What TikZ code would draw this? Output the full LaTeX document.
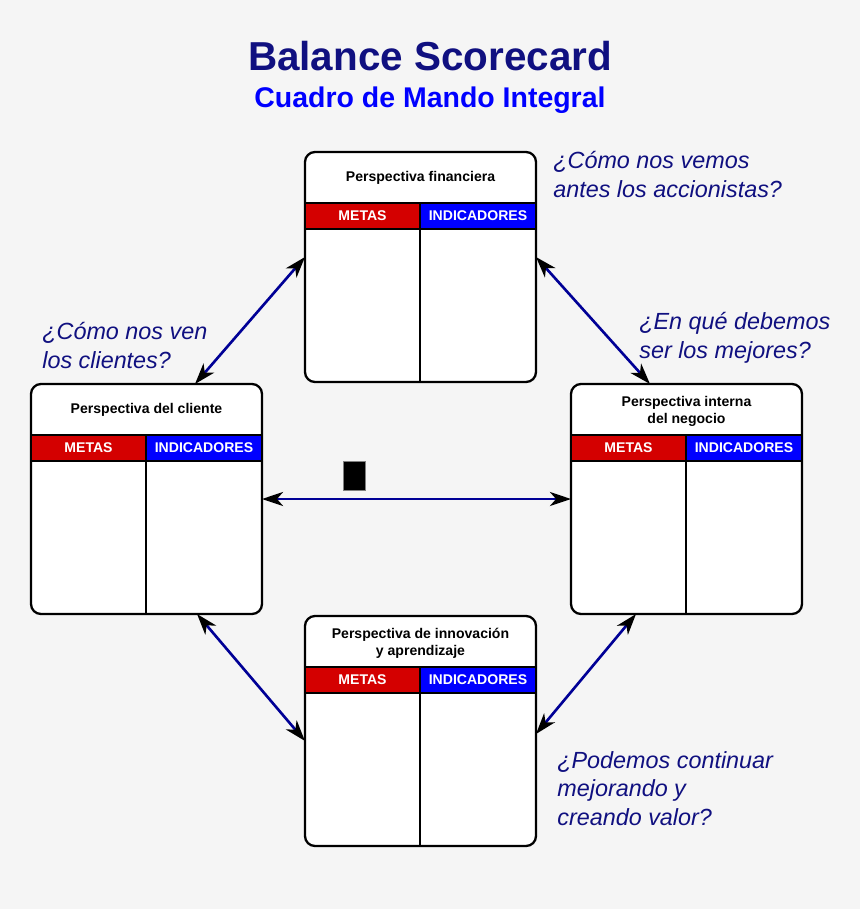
\documentclass[tikz,border=0pt]{standalone}
\usepackage{fontspec}
\setmainfont{Liberation Sans}
\usetikzlibrary{positioning, calc, arrows.meta}
\definecolor{fondo}{RGB}{245,245,245}
\definecolor{darknavy}{RGB}{16,16,128}
\definecolor{linenavy}{RGB}{0,0,150}
\definecolor{metared}{RGB}{212,0,0}
\definecolor{indblue}{RGB}{0,0,255}

\begin{document}
\begin{tikzpicture}[
        node distance=0.04cm and 0.86cm,
        persp/.style={rectangle, draw=black, line width=1.3pt, fill=white, minimum width=4.62cm, minimum height=4.6cm, rounded corners=0.2cm, inner sep=0pt, outer sep=0pt},
        ptitle/.style={font=\fontsize{8}{9.7}\selectfont\bfseries, align=center},
        head/.style={rectangle, draw=black, line width=0.8pt, text=white, font=\fontsize{8}{9.7}\selectfont\bfseries, minimum height=0.52cm, inner sep=0pt, outer sep=0pt},
        metas/.style={head, fill=metared, minimum width=2.3cm},
        indic/.style={head, fill=indblue, minimum width=2.32cm},
        divider/.style={line width=1.1pt},
        question/.style={text=darknavy, font=\fontsize{13.3}{16.2}\selectfont\itshape, align=left, inner sep=0pt, anchor=base west},
        arrow/.style={<->, >={Stealth[length=12pt, width=8pt, inset=3.5pt, color=black]}, draw=linenavy, line width=1.5pt}
    ]
        \fill[fondo] (0,0) rectangle (17.2,-18.18);
        \useasboundingbox (0,0) rectangle (17.2,-18.18);

        % titles
        \node[font=\fontsize{23}{27}\selectfont\bfseries, text=darknavy, anchor=base, inner sep=0pt] (TIT) at (8.6,-1.40) {Balance Scorecard};
        \node[font=\fontsize{16.2}{19}\selectfont\bfseries, text=indblue, anchor=base, inner sep=0pt] (SUB) at (8.6,-2.14) {Cuadro de Mando Integral};

        % perspectives
        \node[persp] (FIN) at (8.41,-5.34) {};
        \node[persp, below left=of FIN] (CLI) {};
        \node[persp, below right=0.04cm and 0.7cm of FIN] (INT) {};
        \node[persp, below=4.68cm of FIN] (INN) {};

        \node[ptitle] (FINt) at ([yshift=-0.51cm]FIN.north) {Perspectiva financiera};
        \node[ptitle] (CLIt) at ([yshift=-0.51cm]CLI.north) {Perspectiva del cliente};
        \node[ptitle] (INTt) at ([yshift=-0.55cm]INT.north) {Perspectiva interna\\del negocio};
        \node[ptitle] (INNt) at ([yshift=-0.55cm]INN.north) {Perspectiva de innovación\\y aprendizaje};

        \foreach \p in {FIN, CLI, INT, INN} {
            \node[metas, anchor=north west] (\p m) at ([yshift=-1.02cm]\p.north west) {METAS};
            \node[indic, anchor=north east] (\p i) at ([yshift=-1.02cm]\p.north east) {INDICADORES};
            \draw[divider] (\p m.north east) -- (\p m.north east |- \p.south);
        }

        % questions (base = last line)
        \node[question] (Q1) at (11.06,-3.946) {¿Cómo nos vemos\\antes los accionistas?};
        \node[question] (Q2) at (0.84,-7.366) {¿Cómo nos ven\\los clientes?};
        \node[question] (Q3) at (12.78,-7.16) {¿En qué debemos\\ser los mejores?};
        \node[question] (Q4) at (11.14,-16.5) {¿Podemos continuar\\mejorando y\\creando valor?};

        \draw[arrow] ([xshift=0.97cm]CLI.north) -- ([yshift=0.2cm]FIN.west);
        \draw[arrow] ([yshift=0.2cm]FIN.east) -- ([xshift=-0.73cm]INT.north);
        \draw[arrow] (CLI.east) -- (INT.west);
        \draw[arrow] ([xshift=1.01cm]CLI.south) -- ([yshift=-0.2cm]INN.west);
        \draw[arrow] ([xshift=-1.01cm]INT.south) -- ([yshift=-0.06cm]INN.east);

        \node[draw=gray, fill=black, line width=0.6pt, minimum width=0.44cm, minimum height=0.58cm, inner sep=0pt] (GLY) at ($(CLI.east)!0.3!(INT.west)+(0,0.46)$) {};
    \end{tikzpicture}
\end{document}
